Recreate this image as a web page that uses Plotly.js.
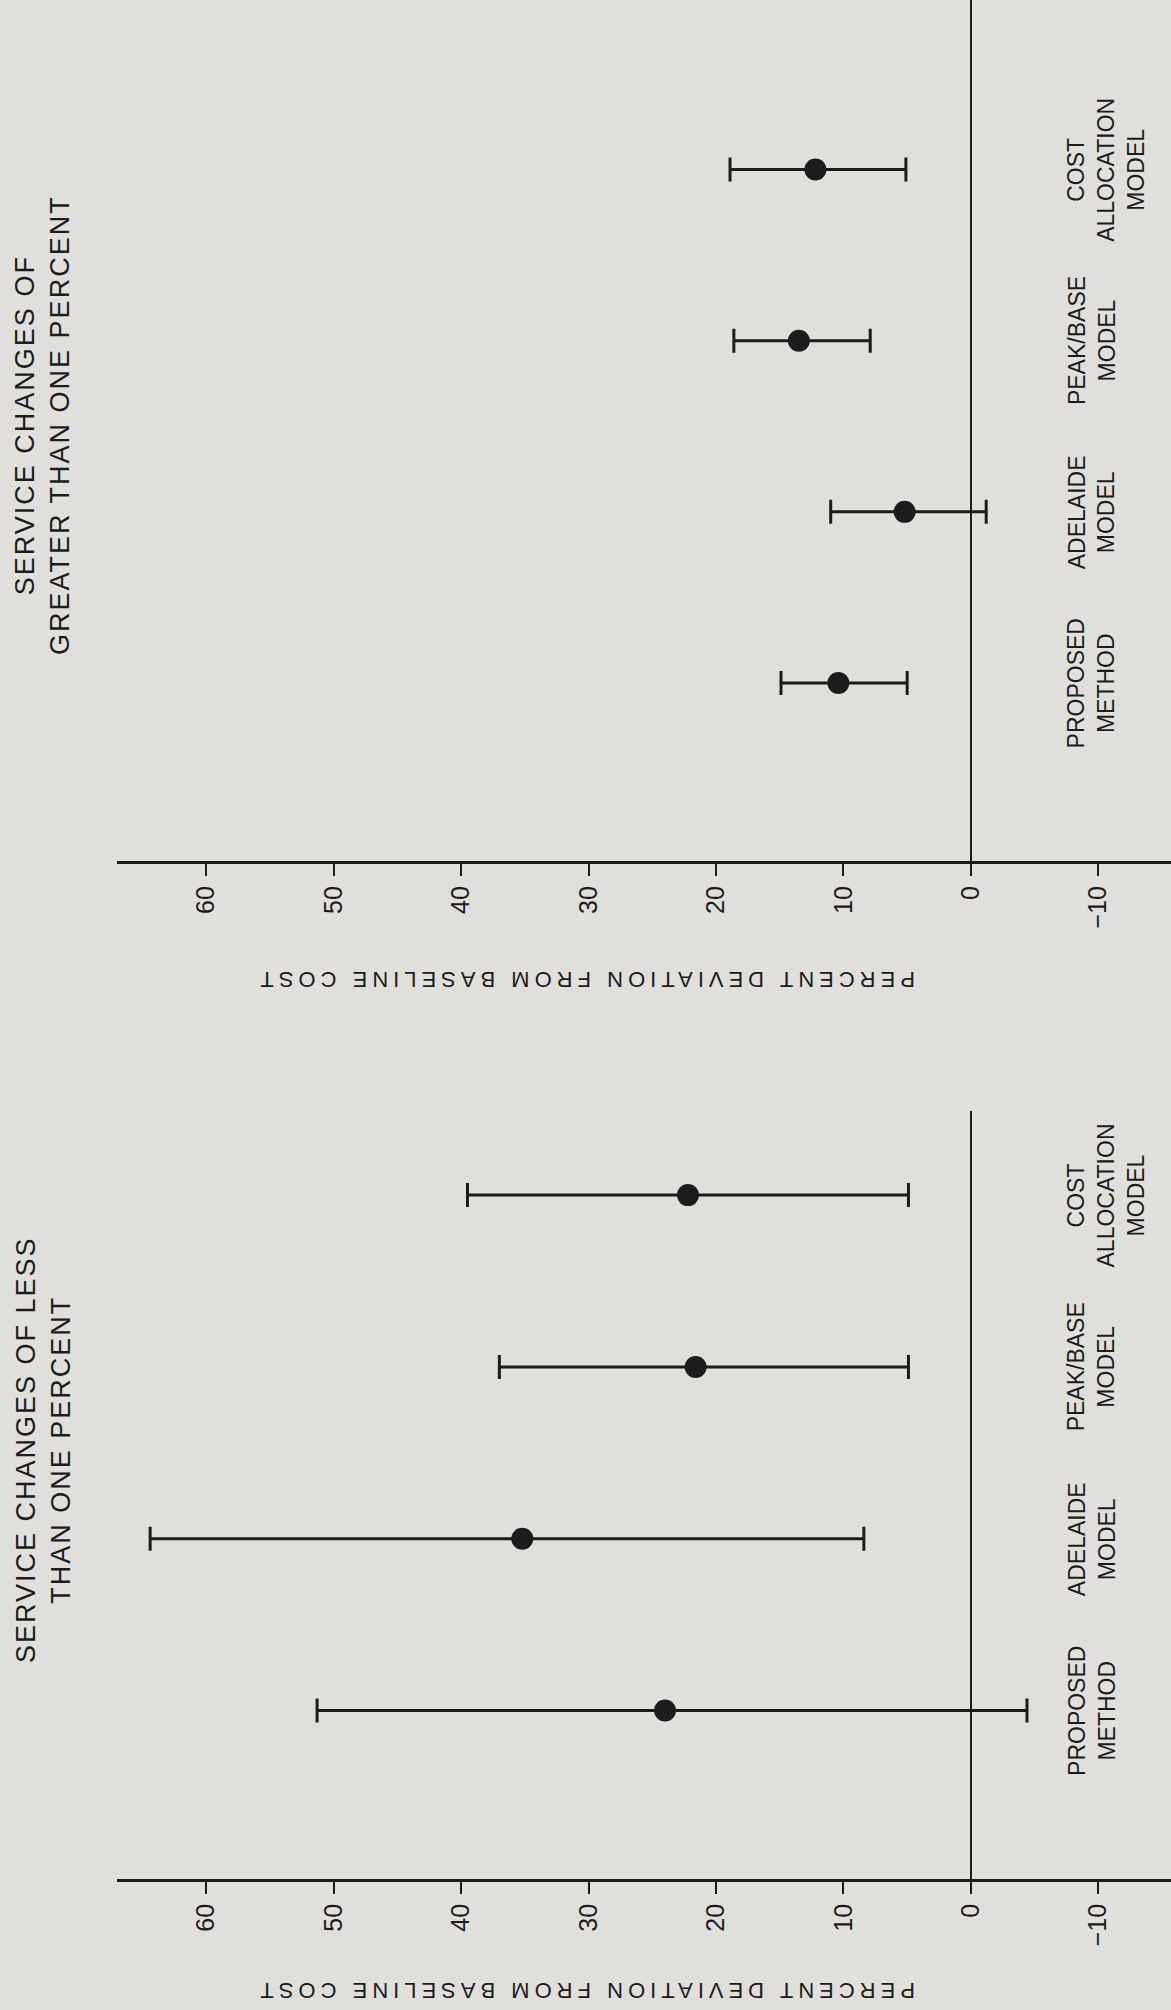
<!DOCTYPE html>
<html>
<head>
<meta charset="utf-8">
<script src="https://cdn.plot.ly/plotly-3.0.1.min.js"></script>
<style>
  html, body { margin: 0; padding: 0; background: #e0dfdb; }
  #chart { width: 1171px; height: 2010px; }
  text[data-unformatted^="PERCENT"] { letter-spacing: 5px; }
  text[data-unformatted^="SERVICE"] { letter-spacing: 2px; }
</style>
</head>
<body>
<div id="chart"></div>
<script>
// ---- data ----
const categories = ['PROPOSED METHOD', 'ADELAIDE MODEL', 'PEAK/BASE MODEL', 'COST ALLOCATION MODEL'];
const categoryLabels = ['PROPOSED<br>METHOD', 'ADELAIDE<br>MODEL', 'PEAK/BASE<br>MODEL', 'COST<br>ALLOCATION<br>MODEL'];

// Panel: service changes of greater than one percent
const greaterMean = [10.4, 5.2, 13.5, 12.2];
const greaterLow  = [5.0, -1.2, 7.9, 5.1];
const greaterHigh = [14.9, 11.0, 18.6, 18.9];

// Panel: service changes of less than one percent
const lessMean = [24.0, 35.2, 21.6, 22.2];
const lessLow  = [-4.4, 8.4, 4.9, 4.9];
const lessHigh = [51.3, 64.4, 37.0, 39.5];

const tickValues = [-10, 0, 10, 20, 30, 40, 50, 60];
const greaterTitle = 'SERVICE CHANGES OF<br>GREATER THAN ONE PERCENT';
const lessTitle = 'SERVICE CHANGES OF LESS<br>THAN ONE PERCENT';
const valueAxisTitle = 'PERCENT DEVIATION FROM BASELINE COST';

// ---- styling ----
const ink = '#1c1c1c';
const bg = '#e0dfdb';
const fontFamily = '"Liberation Sans", Arial, Helvetica, sans-serif';

function errTrace(mean, low, high, xa, ya) {
  return {
    type: 'scatter', mode: 'markers',
    x: mean, y: categories, xaxis: xa, yaxis: ya,
    marker: { size: 22, color: ink, line: { width: 0 } },
    error_x: {
      type: 'data', symmetric: false,
      array: high.map((h, i) => h - mean[i]),
      arrayminus: low.map((l, i) => mean[i] - l),
      color: ink, thickness: 3, width: 12
    },
    hoverinfo: 'skip', showlegend: false, cliponaxis: false
  };
}

const xBase = {
  range: [67.0, -15.7],
  tickmode: 'array', tickvals: tickValues,
  tickangle: -90,
  tickfont: { size: 25, color: ink, family: fontFamily },
  ticks: 'outside', ticklen: 12, tickwidth: 2, tickcolor: ink,
  showline: true, linewidth: 3, linecolor: ink,
  showgrid: false,
  zeroline: true, zerolinewidth: 2, zerolinecolor: ink,
  fixedrange: true
};
const yBase = {
  type: 'category', categoryorder: 'array', categoryarray: categories,
  showticklabels: false, showgrid: false, zeroline: false, showline: false, ticks: '',
  fixedrange: true
};

const annotations = [];
function catLabels(xref, yref) {
  categories.forEach((c, i) => {
    annotations.push({
      xref: xref, yref: yref, x: -7.1, y: c,
      text: categoryLabels[i], textangle: -90, showarrow: false,
      xanchor: 'left', yanchor: 'middle', align: 'center',
      font: { size: 23, color: ink, family: fontFamily }
    });
  });
}
catLabels('x', 'y');
catLabels('x2', 'y2');

annotations.push({
  xref: 'paper', yref: 'paper', x: -0.0702, y: 0.7886,
  text: greaterTitle, textangle: -90, showarrow: false,
  xanchor: 'center', yanchor: 'middle', align: 'center',
  font: { size: 27, color: ink, family: fontFamily }
});
annotations.push({
  xref: 'paper', yref: 'paper', x: -0.0702, y: 0.2786,
  text: lessTitle, textangle: -90, showarrow: false,
  xanchor: 'center', yanchor: 'middle', align: 'center',
  font: { size: 27, color: ink, family: fontFamily }
});
annotations.push({
  xref: 'paper', yref: 'paper', x: 0.444, y: 0.5124,
  text: valueAxisTitle, textangle: 180, showarrow: false,
  xanchor: 'center', yanchor: 'middle',
  font: { size: 22, color: ink, family: fontFamily }
});
annotations.push({
  xref: 'paper', yref: 'paper', x: 0.444, y: 0.0100,
  text: valueAxisTitle, textangle: 180, showarrow: false,
  xanchor: 'center', yanchor: 'middle',
  font: { size: 22, color: ink, family: fontFamily }
});

const layout = {
  width: 1171, height: 2010,
  margin: { l: 117, r: 0, t: 0, b: 0 },
  paper_bgcolor: bg, plot_bgcolor: bg,
  font: { family: fontFamily, color: ink },
  showlegend: false,
  xaxis: Object.assign({}, xBase, { anchor: 'y', domain: [0, 1] }),
  yaxis: Object.assign({}, yBase, { anchor: 'x', domain: [0.5716, 1.0], range: [-1.04, 3.99] }),
  xaxis2: Object.assign({}, xBase, { anchor: 'y2', domain: [0, 1] }),
  yaxis2: Object.assign({}, yBase, { anchor: 'x2', domain: [0.0652, 0.4473], range: [-0.98, 3.49] }),
  annotations: annotations
};

Plotly.newPlot('chart', [
  errTrace(greaterMean, greaterLow, greaterHigh, 'x', 'y'),
  errTrace(lessMean, lessLow, lessHigh, 'x2', 'y2')
], layout, { displayModeBar: false, staticPlot: true });
</script>
</body>
</html>
